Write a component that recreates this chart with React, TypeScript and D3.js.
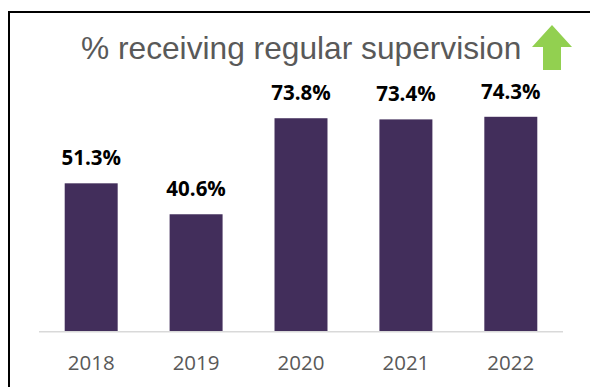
import React from "react";
import * as d3 from "d3";

const years = ["2018", "2019", "2020", "2021", "2022"];
const values = [51.3, 40.6, 73.8, 73.4, 74.3];
const title = "% receiving regular supervision";

export default function App() {
  const W = 590, H = 387;
  const x = d3.scaleBand<string>().domain(years).range([39, 563]).paddingInner(0.495).paddingOuter(0.245);
  const y = d3.scaleLinear().domain([0, 80]).range([331.7, 100.3]);
  const arrow = d3.path();
  arrow.moveTo(552, 25);
  arrow.lineTo(572, 47);
  arrow.lineTo(561, 47);
  arrow.lineTo(561, 70);
  arrow.lineTo(543, 70);
  arrow.lineTo(543, 47);
  arrow.lineTo(532, 47);
  arrow.closePath();
  return (
    <svg width={W} height={H} style={{ position: "absolute", left: 0, top: 0, background: "#fff" }}>
      <rect x={9} y={12} width={700} height={500} fill="#fff" stroke="#000" strokeWidth={2} />
      <text x={81} y={59} fill="#595959" fontFamily="Liberation Sans, Arial, sans-serif" fontSize={31.7}>{title}</text>
      <path d={arrow.toString()} fill="#92d050" />
      {years.map((yr, i) => (
        <g key={yr}>
          <rect x={x(yr)} y={y(values[i])} width={x.bandwidth()} height={y(0) - y(values[i])} fill="#422e5b" />
          <text x={(x(yr) as number) + x.bandwidth() / 2} y={y(values[i]) - 18} textAnchor="middle" fontFamily="Open Sans, sans-serif" fontWeight="bold" fontSize={20.5} fill="#000">
            {values[i].toFixed(1) + "%"}
          </text>
          <text x={(x(yr) as number) + x.bandwidth() / 2} y={370} textAnchor="middle" fontFamily="Open Sans, sans-serif" fontSize={20.5} fill="#595959">
            {yr}
          </text>
        </g>
      ))}
      <line x1={39} x2={563} y1={y(0)} y2={y(0)} stroke="#d9d9d9" strokeWidth={1.5} />
    </svg>
  );
}
